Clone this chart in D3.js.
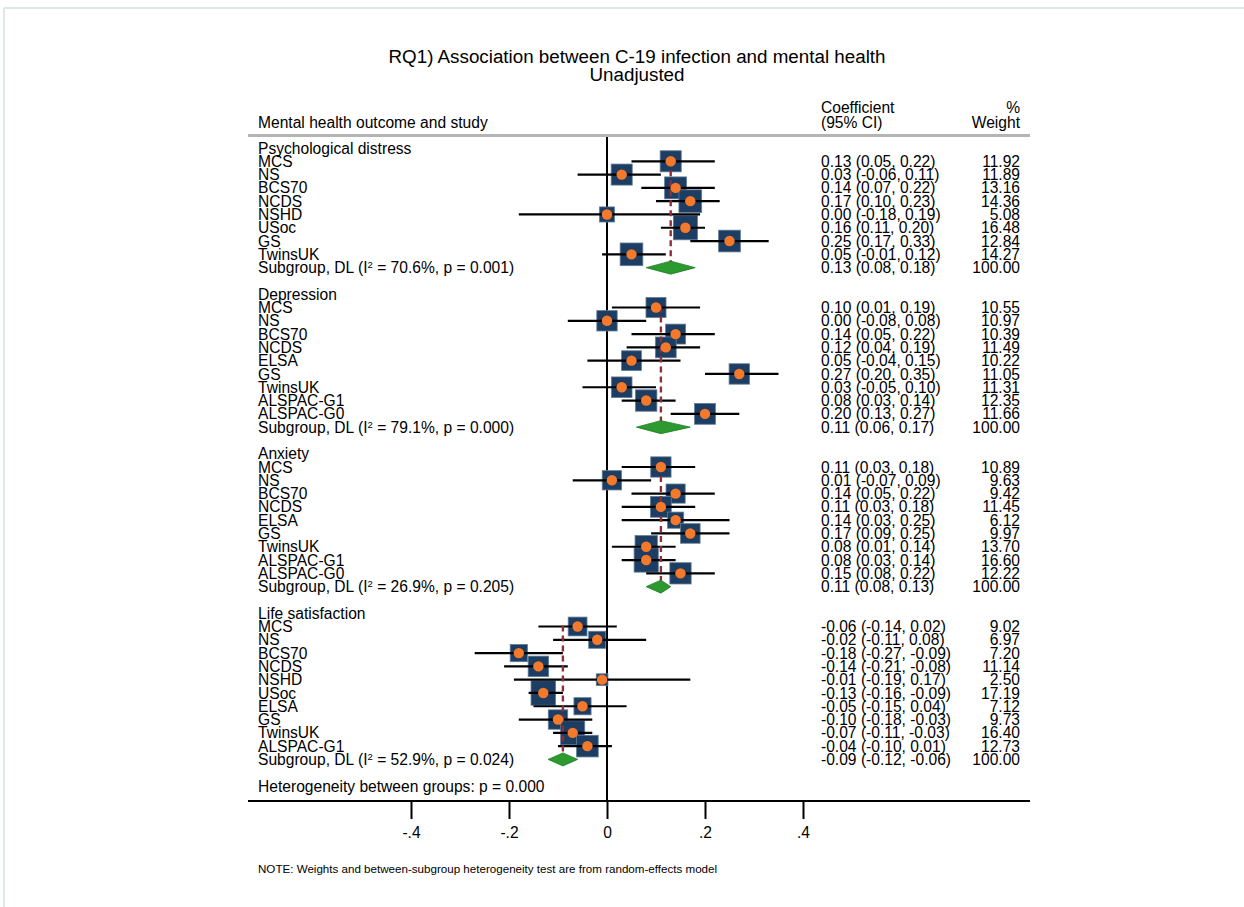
<!DOCTYPE html>
<html>
<head>
<meta charset="utf-8">
<script src="https://cdn.jsdelivr.net/npm/d3@7"></script>
<style>
  html, body { margin: 0; padding: 0; background: #ffffff; }
  svg text { font-family: "Liberation Sans", Arial, Helvetica, sans-serif; fill: #000; }
</style>
</head>
<body>
<svg id="chart" width="1244" height="907"></svg>
<script>
// Forest plot: association between C-19 infection and mental health (unadjusted)

const groups = ["Psychological distress", "Depression", "Anxiety", "Life satisfaction"];

const studies = [
  ["MCS", "NS", "BCS70", "NCDS", "NSHD", "USoc", "GS", "TwinsUK"],
  ["MCS", "NS", "BCS70", "NCDS", "ELSA", "GS", "TwinsUK", "ALSPAC-G1", "ALSPAC-G0"],
  ["MCS", "NS", "BCS70", "NCDS", "ELSA", "GS", "TwinsUK", "ALSPAC-G1", "ALSPAC-G0"],
  ["MCS", "NS", "BCS70", "NCDS", "NSHD", "USoc", "ELSA", "GS", "TwinsUK", "ALSPAC-G1"]
];

const estimates = [
  [0.13, 0.03, 0.14, 0.17, 0.00, 0.16, 0.25, 0.05],
  [0.10, 0.00, 0.14, 0.12, 0.05, 0.27, 0.03, 0.08, 0.20],
  [0.11, 0.01, 0.14, 0.11, 0.14, 0.17, 0.08, 0.08, 0.15],
  [-0.06, -0.02, -0.18, -0.14, -0.01, -0.13, -0.05, -0.10, -0.07, -0.04]
];

const lowerCI = [
  [0.05, -0.06, 0.07, 0.10, -0.18, 0.11, 0.17, -0.01],
  [0.01, -0.08, 0.05, 0.04, -0.04, 0.20, -0.05, 0.03, 0.13],
  [0.03, -0.07, 0.05, 0.03, 0.03, 0.09, 0.01, 0.03, 0.08],
  [-0.14, -0.11, -0.27, -0.21, -0.19, -0.16, -0.15, -0.18, -0.11, -0.10]
];

const upperCI = [
  [0.22, 0.11, 0.22, 0.23, 0.19, 0.20, 0.33, 0.12],
  [0.19, 0.08, 0.22, 0.19, 0.15, 0.35, 0.10, 0.14, 0.27],
  [0.18, 0.09, 0.22, 0.18, 0.25, 0.25, 0.14, 0.14, 0.22],
  [0.02, 0.08, -0.09, -0.08, 0.17, -0.09, 0.04, -0.03, -0.03, 0.01]
];

const weights = [
  [11.92, 11.89, 13.16, 14.36, 5.08, 16.48, 12.84, 14.27],
  [10.55, 10.97, 10.39, 11.49, 10.22, 11.05, 11.31, 12.35, 11.66],
  [10.89, 9.63, 9.42, 11.45, 6.12, 9.97, 13.70, 16.60, 12.22],
  [9.02, 6.97, 7.20, 11.14, 2.50, 17.19, 7.12, 9.73, 16.40, 12.73]
];

// Random-effects (DerSimonian-Laird) subgroup pooled results
const subgroupEst = [0.13, 0.11, 0.11, -0.09];
const subgroupLo = [0.08, 0.06, 0.08, -0.12];
const subgroupHi = [0.18, 0.17, 0.13, -0.06];
const subgroupI2 = ["70.6", "79.1", "26.9", "52.9"];
const subgroupP = ["0.001", "0.000", "0.205", "0.024"];

const heterogeneityP = "0.000";
const xTicks = [-0.4, -0.2, 0, 0.2, 0.4];
const tickLabels = ["-.4", "-.2", "0", ".2", ".4"];

const svg = d3.select("#chart");

// outer frame (top and left edges)
svg.append("line").attr("x1", 4).attr("x2", 1244).attr("y1", 8).attr("y2", 8)
  .attr("stroke", "#dfe8e8").attr("stroke-width", 2);
svg.append("line").attr("x1", 4).attr("x2", 4).attr("y1", 8).attr("y2", 907)
  .attr("stroke", "#dfe8e8").attr("stroke-width", 2);

// build row layout
const rows = [];
let r = 0;
groups.forEach((g, gi) => {
  rows.push({ type: "header", label: g, row: r++ });
  const first = r;
  studies[gi].forEach((s, i) => {
    rows.push({ type: "study", label: s, row: r++, est: estimates[gi][i], lo: lowerCI[gi][i], hi: upperCI[gi][i], w: weights[gi][i], gi });
  });
  rows.push({ type: "subgroup", row: r++, est: subgroupEst[gi], lo: subgroupLo[gi], hi: subgroupHi[gi], w: 100, gi, first });
  r++; // blank row
});
const hetRow = r;

const y = d3.scaleLinear().domain([0, hetRow]).range([148, 786]);
const x = d3.scaleLinear().domain([-0.4, 0.4]).range([411, 803]);

const fs = 15.6;
const labelX = 258, coefX = 821, weightX = 1020;
const ruleLeft = 248, ruleRight = 1030;

// titles
svg.append("text").attr("x", 637).attr("y", 63).attr("text-anchor", "middle")
  .style("font-size", "18.8px").text("RQ1) Association between C-19 infection and mental health");
svg.append("text").attr("x", 637).attr("y", 81).attr("text-anchor", "middle")
  .style("font-size", "18.8px").text("Unadjusted");

// column headers
svg.append("text").attr("x", labelX).attr("y", 128).style("font-size", fs + "px").text("Mental health outcome and study");
svg.append("text").attr("x", coefX).attr("y", 113).style("font-size", fs + "px").text("Coefficient");
svg.append("text").attr("x", coefX).attr("y", 128).style("font-size", fs + "px").text("(95% CI)");
svg.append("text").attr("x", weightX).attr("y", 113).attr("text-anchor", "end").style("font-size", fs + "px").text("%");
svg.append("text").attr("x", weightX).attr("y", 128).attr("text-anchor", "end").style("font-size", fs + "px").text("Weight");

svg.append("line").attr("x1", ruleLeft).attr("x2", ruleRight).attr("y1", 135.5).attr("y2", 135.5)
  .attr("stroke", "#b4b4b4").attr("stroke-width", 3);

// zero reference line
svg.append("line").attr("x1", x(0)).attr("x2", x(0)).attr("y1", 137).attr("y2", 800)
  .attr("stroke", "#000").attr("stroke-width", 2);

const studyRows = rows.filter(d => d.type === "study");
const subRows = rows.filter(d => d.type === "subgroup");
const side = w => 5 * Math.sqrt(w) + 3.8;

// weight boxes
svg.append("g").selectAll("rect").data(studyRows).join("rect")
  .attr("x", d => x(d.est) - side(d.w) / 2)
  .attr("y", d => y(d.row) - side(d.w) / 2)
  .attr("width", d => side(d.w)).attr("height", d => side(d.w))
  .attr("fill", "#1d3d62").attr("stroke", "#5f7d9a").attr("stroke-width", 0.8);

// confidence intervals
svg.append("g").selectAll("line").data(studyRows).join("line")
  .attr("x1", d => x(d.lo)).attr("x2", d => x(d.hi))
  .attr("y1", d => y(d.row)).attr("y2", d => y(d.row))
  .attr("stroke", "#000").attr("stroke-width", 2.2);

// subgroup estimate dashed lines
svg.append("g").selectAll("line").data(subRows).join("line")
  .attr("x1", d => x(d.est)).attr("x2", d => x(d.est))
  .attr("y1", d => y(d.first) - 1).attr("y2", d => y(d.row) - 6)
  .attr("stroke", "#8c2f38").attr("stroke-width", 2.4).attr("stroke-dasharray", "6,4");

// point estimates
svg.append("g").selectAll("circle").data(studyRows).join("circle")
  .attr("cx", d => x(d.est)).attr("cy", d => y(d.row)).attr("r", 5.2)
  .attr("fill", "#f5792a");

// pooled diamonds
svg.append("g").selectAll("path").data(subRows).join("path")
  .attr("d", d => {
    const yc = y(d.row);
    return `M${x(d.lo)},${yc}L${x(d.est)},${yc - 6.5}L${x(d.hi)},${yc}L${x(d.est)},${yc + 6.5}Z`;
  })
  .attr("fill", "#2c9a2f").attr("stroke", "#1b7a22").attr("stroke-width", 0.8);

// row labels
const labels = svg.append("g").style("font-size", fs + "px");
rows.forEach(d => {
  const t = labels.append("text").attr("x", labelX).attr("y", y(d.row)).attr("dy", "0.36em");
  if (d.type === "subgroup") {
    t.append("tspan").text("Subgroup, DL (I");
    t.append("tspan").attr("dy", -5).style("font-size", "9.5px").text("2");
    t.append("tspan").attr("dy", 5).text(` = ${subgroupI2[d.gi]}%, p = ${subgroupP[d.gi]})`);
  } else {
    t.text(d.label);
  }
});
labels.append("text").attr("x", labelX).attr("y", y(hetRow)).attr("dy", "0.36em")
  .text(`Heterogeneity between groups: p = ${heterogeneityP}`);

// coefficient and weight columns (plain hyphen for negatives)
const f2 = v => v.toFixed(2);
const numRows = rows.filter(d => d.type !== "header");
labels.selectAll("text.coef").data(numRows).join("text").attr("class", "coef")
  .attr("x", coefX).attr("y", d => y(d.row)).attr("dy", "0.36em")
  .text(d => `${f2(d.est)} (${f2(d.lo)}, ${f2(d.hi)})`);
labels.selectAll("text.wt").data(numRows).join("text").attr("class", "wt")
  .attr("x", weightX).attr("y", d => y(d.row)).attr("dy", "0.36em").attr("text-anchor", "end")
  .text(d => f2(d.w));

// x axis
svg.append("line").attr("x1", ruleLeft).attr("x2", ruleRight).attr("y1", 801).attr("y2", 801)
  .attr("stroke", "#000").attr("stroke-width", 2);
const axis = svg.append("g").attr("transform", "translate(0,801)")
  .call(d3.axisBottom(x).tickValues(xTicks).tickSize(18).tickPadding(8)
    .tickFormat((d, i) => tickLabels[i]));
axis.select(".domain").remove();
axis.selectAll(".tick line").attr("stroke", "#000").attr("stroke-width", 2);
axis.selectAll(".tick text").style("font-size", fs + "px").attr("fill", "#000")
  .style("font-family", "'Liberation Sans', Arial, Helvetica, sans-serif");

// footnote
svg.append("text").attr("x", 258).attr("y", 873).style("font-size", "11.6px")
  .text("NOTE: Weights and between-subgroup heterogeneity test are from random-effects model");
</script>
</body>
</html>
